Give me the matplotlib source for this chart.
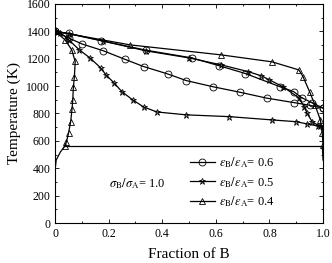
import numpy as np
import matplotlib
matplotlib.use("Agg")
import matplotlib.pyplot as plt
from matplotlib.ticker import MultipleLocator

plt.rcParams['font.family'] = ['Liberation Serif', 'DejaVu Serif']
plt.rcParams['mathtext.fontset'] = 'stix'

# eps_B/eps_A = 0.6 (circles)
x06_liq = [0, 0.05, 0.17, 0.34, 0.51, 0.61, 0.71, 0.84, 0.89, 0.92, 0.96, 1.0]
t06_liq = [1400, 1385, 1333, 1262, 1206, 1150, 1092, 995, 960, 916, 877, 840]
x06_sol = [0, 0.05, 0.10, 0.18, 0.26, 0.33, 0.42, 0.49, 0.59, 0.69, 0.79, 0.89, 0.95, 1.0]
t06_sol = [1400, 1352, 1308, 1258, 1196, 1143, 1089, 1040, 995, 955, 912, 880, 860, 840]

# eps_B/eps_A = 0.5 (stars)
x05_liq = [0, 0.05, 0.18, 0.34, 0.50, 0.62, 0.72, 0.77, 0.80, 0.85, 0.91, 0.93, 0.94, 0.96, 0.99, 1.0]
t05_liq = [1400, 1383, 1328, 1257, 1206, 1155, 1106, 1075, 1045, 996, 914, 848, 804, 738, 705, 700]
x05_sol = [0, 0.02, 0.05, 0.09, 0.13, 0.17, 0.19, 0.22, 0.25, 0.29, 0.33, 0.38, 0.49, 0.65,
           0.81, 0.90, 0.94, 0.98, 1.0]
t05_sol = [1400, 1389, 1340, 1265, 1206, 1133, 1082, 1023, 958, 899, 848, 811, 790, 777,
           753, 740, 724, 709, 700]

# eps_B/eps_A = 0.4 (triangles)
x04_liq = [0, 0.28, 0.62, 0.81, 0.91, 0.925, 0.95, 0.97, 0.99, 0.997, 1.0]
t04_liq = [1400, 1301, 1228, 1177, 1118, 1070, 958, 862, 753, 660, 570]
x04_sol = [0, 0.037, 0.062, 0.075, 0.072, 0.068, 0.066, 0.063, 0.058, 0.05, 0.042, 0.036]
t04_sol = [1400, 1338, 1265, 1180, 1070, 990, 900, 830, 740, 656, 590, 560]
x04_solv = [0.036, 0.02, 0.004, 0.0]
t04_solv = [560, 520, 460, 390]
x04_solv_b = [0.997, 0.999, 1.0]
t04_solv_b = [560, 500, 460]

t_eut = 560
x_eut = [0.036, 1.0]

labels = [r'$\varepsilon_{\rm B}/\varepsilon_{\rm A}$= 0.6',
          r'$\varepsilon_{\rm B}/\varepsilon_{\rm A}$= 0.5',
          r'$\varepsilon_{\rm B}/\varepsilon_{\rm A}$= 0.4']

fig = plt.figure(figsize=(3.32, 2.63), dpi=100)
ax = fig.add_axes([0.166, 0.152, 0.807, 0.833])

lw = 0.9
ms = 5
kw = dict(color='k', lw=lw, mfc='none', mec='k', mew=0.6, ms=ms)

ax.plot(x06_liq, t06_liq, marker='o', **kw)
ax.plot(x06_sol, t06_sol, marker='o', **kw)
ax.plot(x05_liq, t05_liq, marker='*', **kw)
ax.plot(x05_sol, t05_sol, marker='*', **kw)
ax.plot(x04_liq, t04_liq, marker='^', **kw)
ax.plot(x04_sol, t04_sol, marker='^', **kw)
ax.plot(x04_solv, t04_solv, color='k', lw=lw)
ax.plot(x04_solv_b, t04_solv_b, color='k', lw=lw)
ax.plot(x_eut, [t_eut, t_eut], color='k', lw=lw)

h1, = ax.plot([], [], marker='o', **kw)
h2, = ax.plot([], [], marker='*', **kw)
h3, = ax.plot([], [], marker='^', **kw)
ax.legend([h1, h2, h3], labels, frameon=False, fontsize=9,
          loc='lower left', bbox_to_anchor=(0.47, 0.025),
          handlelength=2.0, handletextpad=0.3, labelspacing=0.35, borderpad=0.2)

ax.text(0.306, 290, r'$\sigma_{\rm B}/\sigma_{\rm A}$= 1.0', fontsize=9, ha='center', va='center')

ax.set_xlim(0, 1.0)
ax.set_ylim(0, 1600)
ax.xaxis.set_major_locator(MultipleLocator(0.2))
ax.xaxis.set_minor_locator(MultipleLocator(0.1))
ax.yaxis.set_major_locator(MultipleLocator(200))
ax.yaxis.set_minor_locator(MultipleLocator(100))
ax.set_xticks([0, 0.2, 0.4, 0.6, 0.8, 1.0])
ax.set_xticklabels(['0', '0.2', '0.4', '0.6', '0.8', '1.0'])
ax.tick_params(which='both', direction='in', top=True, right=True, labelsize=8.5, width=0.6)
ax.tick_params(which='major', length=3)
ax.tick_params(which='minor', length=1.5)
for s in ax.spines.values():
    s.set_linewidth(0.8)

ax.set_xlabel('Fraction of B', fontsize=11, labelpad=6)
ax.set_ylabel('Temperature (K)', fontsize=11, labelpad=4)

fig.savefig('out.png', dpi=100)
